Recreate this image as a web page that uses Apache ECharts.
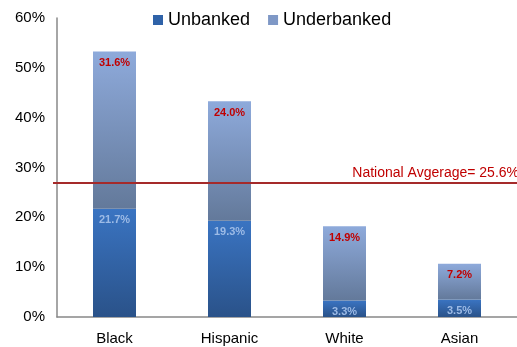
<!DOCTYPE html>
<html><head><meta charset="utf-8">
<script src="https://cdn.jsdelivr.net/npm/echarts@6/dist/echarts.min.js"></script>
<style>html,body{margin:0;padding:0;background:#fff}#c{width:517px;height:347px}</style>
</head><body><div id="c"></div>
<script>
const categories = ['Black', 'Hispanic', 'White', 'Asian'];
const unbanked = [21.7, 19.3, 3.3, 3.5];
const underbanked = [31.6, 24.0, 14.9, 7.2];
const nationalLine = 27;
const nationalLabel = 'National Avgerage= 25.6%';
const yTicks = [0, 10, 20, 30, 40, 50, 60];

const font = '"Liberation Sans", Arial, sans-serif';
const chart = echarts.init(document.getElementById('c'));
chart.setOption({
  animation: false,
  textStyle: { fontFamily: font },
  legend: {
    top: 6, left: 148, itemWidth: 10, itemHeight: 10, itemGap: 18,
    icon: 'rect',
    textStyle: { fontSize: 18, color: '#000', fontFamily: font },
    data: [
      { name: 'Unbanked', itemStyle: { color: '#2f62a8' } },
      { name: 'Underbanked', itemStyle: { color: '#7f98c6' } }
    ]
  },
  grid: { left: 57, right: -3, top: 18, bottom: 30, containLabel: false },
  xAxis: {
    type: 'category', data: categories,
    axisLine: { lineStyle: { color: '#888', width: 1.5 } },
    axisTick: { show: false },
    axisLabel: { fontSize: 15, color: '#000', margin: 14, fontFamily: font }
  },
  yAxis: {
    type: 'value', min: 0, max: 60, interval: 10,
    axisLine: { show: true, lineStyle: { color: '#888', width: 1.5 } },
    axisTick: { show: false },
    splitLine: { show: false },
    axisLabel: { fontSize: 15, color: '#000', margin: 12, fontFamily: font,
      formatter: v => yTicks.includes(v) ? v + '%' : '' }
  },
  series: [
    {
      name: 'Unbanked', type: 'bar', stack: 's', barWidth: 43,
      data: unbanked,
      itemStyle: { color: new echarts.graphic.LinearGradient(0, 0, 0, 1, [
        { offset: 0, color: '#3a74c2' }, { offset: 1, color: '#2a5289' }]) },
      label: { show: true, position: 'insideTop', distance: 6, color: '#9dbbe6',
        fontWeight: 'bold', fontSize: 11, fontFamily: font,
        formatter: p => p.value.toFixed(1) + '%' },
      markLine: {
        symbol: 'none', silent: true,
        lineStyle: { color: '#a52a2a', width: 2, type: 'solid' },
        label: { show: true, position: 'insideEndTop', color: '#c00000', fontSize: 14,
          fontFamily: font, distance: [-2, 2], formatter: nationalLabel },
        data: [[{ x: 53, yAxis: nationalLine }, { x: 517, yAxis: nationalLine }]]
      }
    },
    {
      name: 'Underbanked', type: 'bar', stack: 's', barWidth: 43,
      data: underbanked,
      itemStyle: { color: new echarts.graphic.LinearGradient(0, 0, 0, 1, [
        { offset: 0, color: '#8eaadb' }, { offset: 1, color: '#63799a' }]) },
      label: { show: true, position: 'insideTop', distance: 6, color: '#c00000',
        fontWeight: 'bold', fontSize: 11, fontFamily: font,
        formatter: p => p.value.toFixed(1) + '%' }
    }
  ]
});
</script>
</body></html>
